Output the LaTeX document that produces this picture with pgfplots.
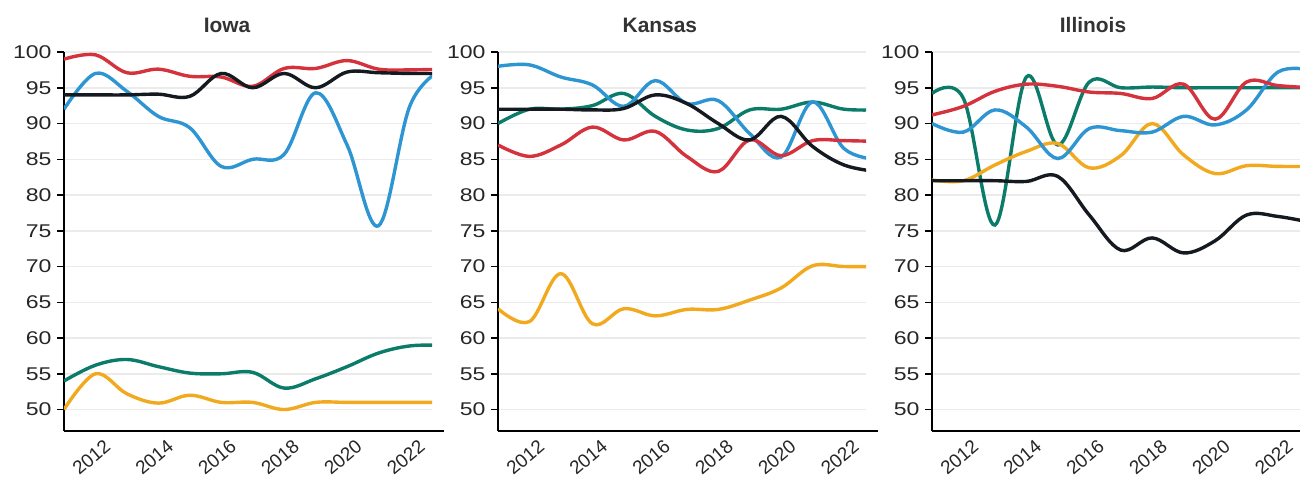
\documentclass[border=0pt]{standalone}
\usepackage{pgfplots}
\pgfplotsset{compat=1.18}
\usepackage{pgfplotstable}
\usepackage{fontspec}
\setmainfont{Liberation Sans}

\definecolor{cred}{HTML}{D4323C}
\definecolor{cblue}{HTML}{2E95D3}
\definecolor{cgreen}{HTML}{0B7B6A}
\definecolor{cyellow}{HTML}{F1AA1F}
\definecolor{cblack}{HTML}{151A21}
\definecolor{cgrid}{HTML}{EBEBEB}

\pgfplotstableread{
year red black blue green yellow
2011 99.0 94.0 92.0 54.0 50.0
2012 99.6 94.0 97.0 56.2 55.0
2013 97.1 94.0 94.5 57.0 52.2
2014 97.6 94.1 91.0 56.0 50.9
2015 96.6 93.8 89.4 55.1 52.0
2016 96.5 97.0 84.0 55.0 51.0
2017 95.2 95.0 85.0 55.2 51.0
2018 97.7 97.0 85.7 53.0 50.0
2019 97.7 95.0 94.3 54.3 51.0
2020 98.8 97.2 87.0 56.0 51.0
2021 97.6 97.1 75.7 57.9 51.0
2022 97.5 97.0 92.5 58.9 51.0
2023 97.6 97.0 97.5 59.0 51.0
}\iowa

\pgfplotstableread{
year red black blue green yellow
2011 87.0 92.0 98.0 90.0 64.1
2012 85.4 92.0 98.2 92.0 62.3
2013 87.0 92.0 96.5 92.0 69.0
2014 89.5 91.9 95.4 92.5 62.0
2015 87.7 92.1 92.4 94.2 64.1
2016 88.9 94.0 96.0 91.0 63.1
2017 85.4 92.8 92.8 89.1 64.0
2018 83.3 90.0 93.2 89.3 64.0
2019 87.7 87.7 88.6 91.9 65.3
2020 85.5 91.0 85.3 92.0 67.0
2021 87.6 86.8 93.0 93.0 70.1
2022 87.6 84.2 86.5 92.0 70.0
2023 87.5 83.3 85.0 91.9 70.0
}\kansas

\pgfplotstableread{
year red black blue green yellow
2011 91.2 82.0 90.0 94.2 82.1
2012 92.4 82.0 88.8 93.5 82.0
2013 94.5 82.0 91.9 75.8 84.2
2014 95.5 81.9 89.5 96.5 86.1
2015 95.2 82.6 85.1 87.0 87.2
2016 94.4 77.2 89.3 95.8 83.8
2017 94.2 72.3 89.0 95.0 85.5
2018 93.5 74.0 88.8 95.1 90.0
2019 95.5 71.9 91.0 95.0 85.6
2020 90.6 73.6 89.8 95.0 83.0
2021 95.8 77.2 91.9 95.0 84.1
2022 95.3 77.0 97.2 95.0 84.0
2023 95.0 76.2 97.5 95.0 84.0
}\illinois

\pgfplotsset{
  panel/.style={
    scale only axis, width=368bp, height=379bp,
    anchor=south west,
    xmin=2011, xmax=2022.7, ymin=47, ymax=100,
    axis lines=left,
    axis line style={-, line width=2bp, black},
    ytick={50,55,...,100},
    xtick={2012,2014,...,2022},
    ymajorgrids, grid style={line width=1.5bp, cgrid},
    tick align=outside, major tick length=7bp,
    y tick style={line width=1.5bp, black},
    x tick style={draw=none},
    /pgf/number format/1000 sep={},
    /pgf/number format/assume math mode=true,
    tick label style={text=black!85},
    yticklabel={\scalebox{1.25}[1]{\pgfmathprintnumber{\tick}}},
    y tick label style={font=\fontsize{18.5}{18.5}\selectfont, xshift=-2bp},
    x tick label style={font=\fontsize{19}{19}\selectfont, rotate=40, anchor=north east, xshift=9bp, yshift=-2bp},
    title style={anchor=base, yshift=14bp, font=\bfseries\fontsize{21}{21}\selectfont, text=black!80},
    cur/.style={smooth, tension=0.6, line width=3.4bp, no markers},
  }
}

\begin{document}
\begin{tikzpicture}
\useasboundingbox (0,0) rectangle (1300bp,480bp);

\begin{axis}[panel, at={(64bp,49bp)}, title=Iowa, title style={at={(0.443,1)}},
  x axis line style={shorten >=-12bp}]
  \addplot[cur, cgreen] table[x=year, y=green] {\iowa};
  \addplot[cur, cyellow] table[x=year, y=yellow] {\iowa};
  \addplot[cur, cblue] table[x=year, y=blue] {\iowa};
  \addplot[cur, cred] table[x=year, y=red] {\iowa};
  \addplot[cur, cblack] table[x=year, y=black] {\iowa};
\end{axis}

\begin{axis}[panel, at={(498bp,49bp)}, title=Kansas, title style={at={(0.44,1)}},
  x axis line style={shorten >=-12bp}]
  \addplot[cur, cgreen] table[x=year, y=green] {\kansas};
  \addplot[cur, cyellow] table[x=year, y=yellow] {\kansas};
  \addplot[cur, cblue] table[x=year, y=blue] {\kansas};
  \addplot[cur, cred] table[x=year, y=red] {\kansas};
  \addplot[cur, cblack] table[x=year, y=black] {\kansas};
\end{axis}

\begin{axis}[panel, at={(932bp,49bp)}, title=Illinois, title style={at={(0.4375,1)}}]
  \addplot[cur, cgreen] table[x=year, y=green] {\illinois};
  \addplot[cur, cyellow] table[x=year, y=yellow] {\illinois};
  \addplot[cur, cblue] table[x=year, y=blue] {\illinois};
  \addplot[cur, cred] table[x=year, y=red] {\illinois};
  \addplot[cur, cblack] table[x=year, y=black] {\illinois};
\end{axis}
\end{tikzpicture}
\end{document}
